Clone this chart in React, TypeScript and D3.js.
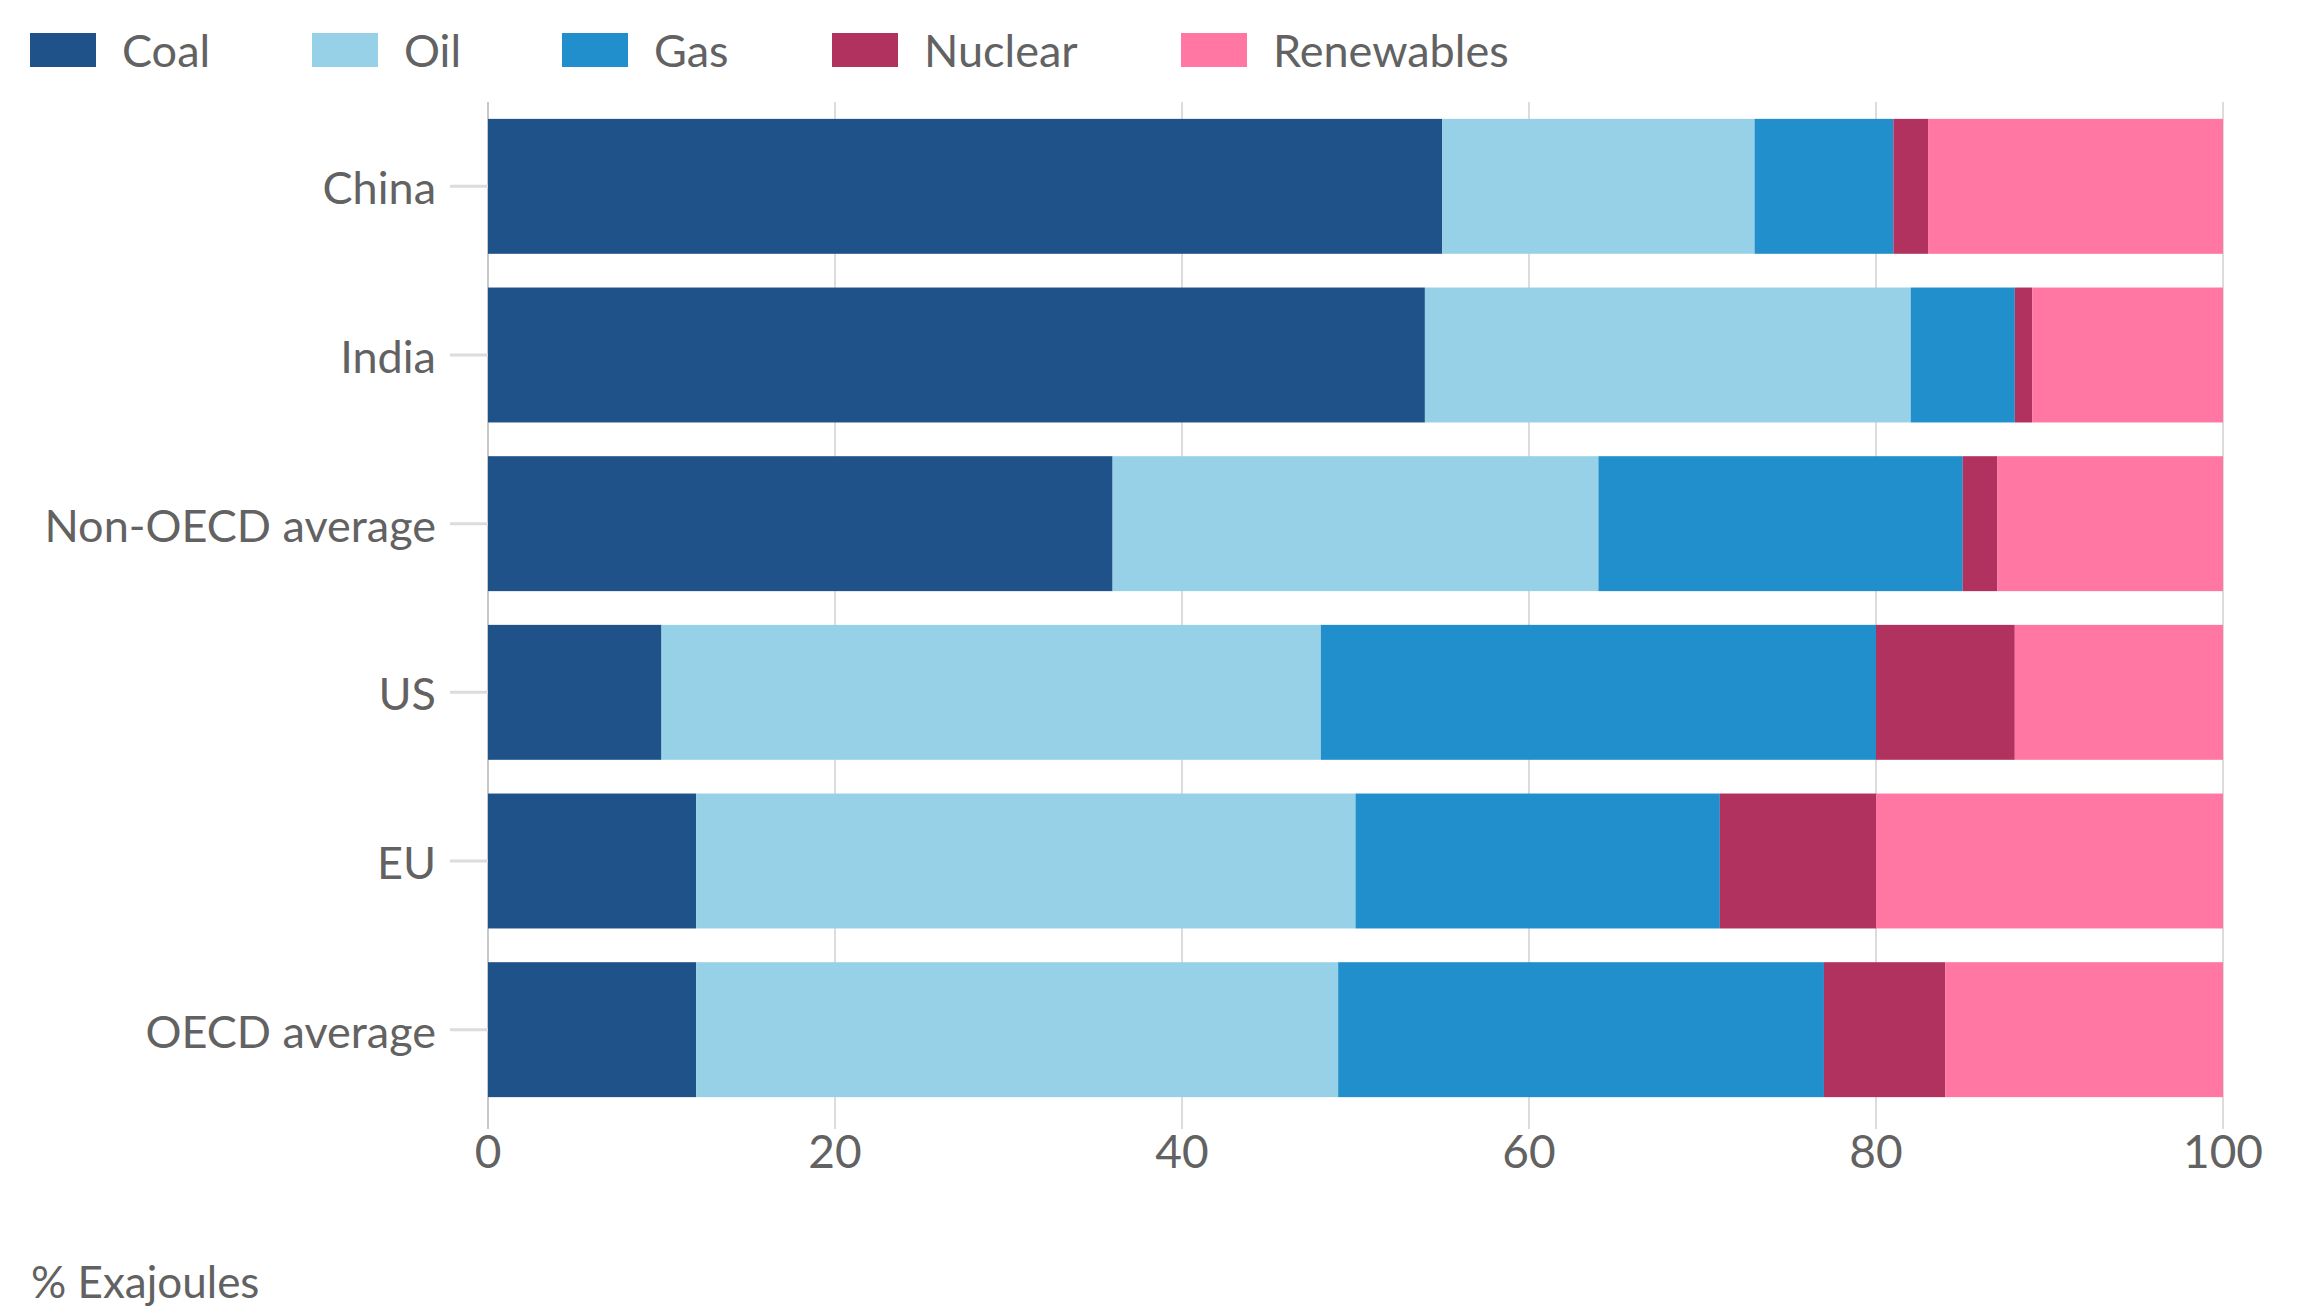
import * as d3 from "d3";
import {useMemo} from "react";

const regions = ["China", "India", "Non-OECD average", "US", "EU", "OECD average"];
const fuels = ["Coal", "Oil", "Gas", "Nuclear", "Renewables"];
const fuelColors = ["#20528a", "#96d1e7", "#208fcc", "#b1325e", "#ff77a2"];

// share of energy use, %
const coal = [55, 54, 36, 10, 12, 12];
const oil = [18, 28, 28, 38, 38, 37];
const gas = [8, 6, 21, 32, 21, 28];
const nuclear = [2, 1, 2, 8, 9, 7];
const renewables = [17, 11, 13, 12, 20, 16];

const xTicks = [0, 20, 40, 60, 80, 100];

const W = 2318, H = 1306;
const margin = {top: 102, right: 95, bottom: 192, left: 488};
const FONT = "Lato, 'Open Sans', sans-serif";
const TEXT = "#626262";
const GRID = "#dcdcdc";

export default function App() {
    const rows = useMemo(() => regions.map((r, i) => ({
        region: r,
        Coal: coal[i],
        Oil: oil[i],
        Gas: gas[i],
        Nuclear: nuclear[i],
        Renewables: renewables[i],
    })), []);

    const series = useMemo(() => d3.stack().keys(fuels)(rows), [rows]);

    const x = d3.scaleLinear()
        .domain([0, 100])
        .range([margin.left, W - margin.right]);

    const y = d3.scaleBand()
        .domain(regions)
        .range([margin.top, H - margin.bottom])
        .paddingInner(0.2)
        .paddingOuter(0.1);

    const color = d3.scaleOrdinal().domain(fuels).range(fuelColors);

    // legend item x positions (swatch left edges)
    const legendX = [30, 312, 562, 832, 1181];

    return (
        <svg width={W} height={H} style={{position: "absolute", left: 0, top: 0, background: "#fff"}}
             fontFamily={FONT}>
            {/* legend */}
            {fuels.map((f, i) => (
                <g key={f} transform={`translate(${legendX[i]},33)`}>
                    <rect width={66} height={34} fill={color(f)}/>
                    <text x={92} y={34} fontSize={45} fill={TEXT}>{f}</text>
                </g>
            ))}

            {/* grid */}
            {xTicks.map(t => (
                <line key={t} x1={x(t)} x2={x(t)} y1={margin.top} y2={H - margin.bottom + 15}
                      stroke={t === 0 ? "#c8c8c8" : GRID} strokeWidth={2}/>
            ))}

            {/* bars */}
            {series.map(s => (
                <g key={s.key} fill={color(s.key)}>
                    {s.map(d => (
                        <rect key={d.data.region}
                              x={x(d[0])}
                              y={y(d.data.region)}
                              width={x(d[1]) - x(d[0])}
                              height={y.bandwidth()}/>
                    ))}
                </g>
            ))}

            {/* y axis */}
            {regions.map(r => {
                const cy = y(r) + y.bandwidth() / 2;
                return (
                    <g key={r}>
                        <line x1={margin.left - 38} x2={margin.left} y1={cy} y2={cy}
                              stroke={GRID} strokeWidth={3}/>
                        <text x={margin.left - 52} y={cy + 18} textAnchor="end" fontSize={45}
                              fill={TEXT}>{r}</text>
                    </g>
                );
            })}

            {/* x tick labels */}
            {xTicks.map(t => (
                <text key={t} x={x(t)} y={1168} textAnchor="middle" fontSize={46} fill={TEXT}>{t}</text>
            ))}

            <text x={31} y={1298} fontSize={44} fill={TEXT}>% Exajoules</text>
        </svg>
    );
}
